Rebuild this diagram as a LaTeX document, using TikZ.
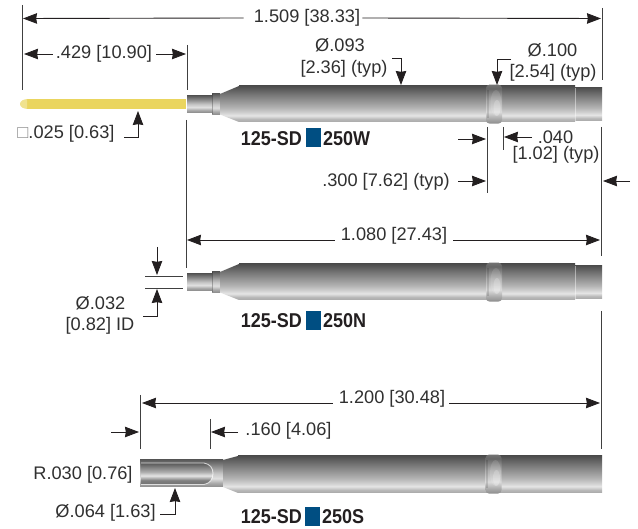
\documentclass[tikz,border=0pt]{standalone}
\usepackage{fontspec}
\setmainfont{Liberation Sans}
\usetikzlibrary{arrows.meta}
\definecolor{ink}{HTML}{231F20}
\definecolor{txt}{HTML}{303030}
\definecolor{brandblue}{HTML}{004E82}
\definecolor{brass}{HTML}{EAD55E}
\pgfdeclareverticalshading{pinbody}{100bp}{
 rgb(0bp)=(.66,.66,.66);rgb(25bp)=(.66,.66,.66);rgb(29bp)=(.72,.72,.72);rgb(34bp)=(.90,.90,.90);rgb(38bp)=(.82,.82,.82);rgb(45bp)=(.70,.70,.70);rgb(55bp)=(.57,.57,.57);rgb(65bp)=(.44,.44,.44);rgb(75bp)=(.30,.30,.30);rgb(100bp)=(.30,.30,.30)}
\pgfdeclareverticalshading{pinneck}{100bp}{
 rgb(0bp)=(.55,.55,.55);rgb(25bp)=(.55,.55,.55);rgb(32bp)=(.66,.66,.66);rgb(41bp)=(.88,.88,.88);rgb(50bp)=(.78,.78,.78);rgb(65bp)=(.52,.52,.52);rgb(75bp)=(.36,.36,.36);rgb(100bp)=(.36,.36,.36)}
\pgfdeclareverticalshading{pinslot}{100bp}{
 rgb(0bp)=(.45,.45,.45);rgb(25bp)=(.45,.45,.45);rgb(35bp)=(.50,.50,.50);rgb(46bp)=(.90,.90,.90);rgb(55bp)=(.68,.68,.68);rgb(75bp)=(.36,.36,.36);rgb(100bp)=(.36,.36,.36)}
\pgfdeclareverticalshading{pinring}{100bp}{
 rgb(0bp)=(.55,.55,.55);rgb(25bp)=(.55,.55,.55);rgb(31bp)=(.66,.66,.66);rgb(40bp)=(.86,.86,.86);rgb(55bp)=(.68,.68,.68);rgb(70bp)=(.40,.40,.40);rgb(75bp)=(.45,.45,.45);rgb(100bp)=(.45,.45,.45)}
\tikzset{
 dimline/.style={draw=ink,line width=.9pt},
 arr/.style={dimline,-{Stealth[length=14pt,width=10.5pt,inset=.8pt]}},
 ext/.style={draw=black!75,line width=.9pt},
 lab/.style={inner sep=0pt,text=txt,font=\fontsize{18.2}{20}\selectfont},
 code/.style={inner sep=0pt,text=ink,xscale=.9,font=\fontsize{20}{22}\selectfont\bfseries},
 bluebox/.style={fill=brandblue,draw=none,inner sep=0pt,minimum width=15pt,minimum height=19pt},
 body/.style={shading=pinbody},
 neck/.style={shading=pinneck},
}
\newcommand{\ringband}{%
 \shade[shading=pinring,rounded corners=3.5pt] (486,84.6) -- (502,84.6) -- (502,123.6) -- (486,123.6) -- cycle;
 \fill[white,opacity=.12] (496,103) ellipse (5.5 and 13);
 \fill[white,opacity=.2] (497,108) ellipse (3.5 and 8);
 \fill[black,opacity=.12] (486.5,90) rectangle (488.5,118);
}
\newcommand{\pintube}{%
 \shade[neck] (187,96) rectangle (212,112.5);
 \shade[neck] (212,94) rectangle (220,114.5);
 \draw[black,opacity=.25,line width=.8pt] (212,94.5) -- (212,114);
 \shade[body] (220,94) -- (239,86) -- (239,122) -- (220,114.5) -- cycle;
 \shade[body] (239,86) rectangle (575,122);
 \shade[body] (575,87.5) rectangle (602,121);
 \draw[white,opacity=.45,line width=.8pt] (575,88) -- (575,121);
 \ringband
}
\begin{document}
\begin{tikzpicture}[x=1pt,y=-1pt]
\useasboundingbox (0,0) rectangle (638,529);
% pins
\fill[brass] (186,99) -- (27,99) -- (27,109) -- (186,109) -- cycle;
\fill[brass!70!white] (27,99) .. controls (23,99.5) and (20,101) .. (20,104) .. controls (20,107) and (23,108.5) .. (27,109) -- cycle;
\begin{scope}\pintube\end{scope}
\begin{scope}[yshift=-178pt]\pintube\end{scope}
\shade[neck] (140,460) rectangle (223,487);
\shade[body] (223,460) -- (238,456) -- (238,493) -- (223,487) -- cycle;
\shade[body] (238,456) rectangle (602,493);
\shade[shading=pinslot] (141,463.5) -- (204,463.5) .. controls (210,464) and (213,468) .. (213,473.5) .. controls (213,479) and (210,483.5) .. (204,484.5) -- (141,484.5) -- cycle;
\draw[white,opacity=.7,line width=.9pt] (141,463) -- (204,463) .. controls (210,464) and (213,468) .. (213,473.5) .. controls (213,479) and (210,483.5) .. (204,484.5) -- (141,484.5);
\begin{scope}[yshift=-370pt,xshift=-.5pt]\ringband\end{scope}
% coordinates
\coordinate (a1) at (22,5); \coordinate (a2) at (22,90);
\coordinate (b1) at (602,8); \coordinate (b2) at (602,80);
\coordinate (c1) at (187,45); \coordinate (c2) at (187,90);
\coordinate (d1) at (186,120); \coordinate (d2) at (186,268);
\coordinate (e1) at (487,127); \coordinate (e2) at (487,193);
\coordinate (f1) at (503,127); \coordinate (f2) at (503,150);
\coordinate (g1) at (601,127); \coordinate (g2) at (601,256);
\coordinate (h1) at (601,311); \coordinate (h2) at (601,449);
\coordinate (i1) at (140,395); \coordinate (i2) at (140,449);
\coordinate (j1) at (210,419); \coordinate (j2) at (210,449);
\coordinate (k1) at (145,276); \coordinate (k2) at (183,276);
\coordinate (l1) at (145,288); \coordinate (l2) at (183,288);
\foreach \p/\q in {a1/a2,b1/b2,c1/c2,d1/d2,e1/e2,f1/f2,g1/g2,h1/h2,i1/i2,j1/j2,k1/k2,l1/l2}
 \draw[ext] (\p) -- (\q);
% labels
\node[lab] (t1509) at (307,18) {1.509 [38.33]};
\node[lab] (t429) at (104,54) {.429 [10.90]};
\node[lab] (t25) at (66,134) {\textcolor{black!45}{□}.025 [0.63]};
\node[lab] (t93a) at (340,45) {Ø.093};
\node[lab] (t93b) at (344,69) {[2.36] (typ)};
\node[lab] (t100a) at (552.5,50) {Ø.100};
\node[lab] (t100b) at (553,73) {[2.54] (typ)};
\node[lab] (t40a) at (555.5,137) {.040};
\node[lab] (t40b) at (556,155) {[1.02] (typ)};
\node[lab] (t300) at (386,182) {.300 [7.62] (typ)};
\node[lab] (t1080) at (394,236) {1.080 [27.43]};
\node[lab] (t32a) at (100.5,303) {Ø.032};
\node[lab] (t32b) at (100,326) {[0.82] ID};
\node[lab] (t1200) at (392,399) {1.200 [30.48]};
\node[lab] (t160) at (288.5,431) {.160 [4.06]};
\node[lab] (t30) at (83,475) {R.030 [0.76]};
\node[lab] (t64) at (105.5,513) {Ø.064 [1.63]};
% part codes
\node[code,anchor=east] (w1) at (302,139) {125-SD};
\node[bluebox] (wb) at (313.5,138) {};
\node[code,anchor=west] (w2) at (323,139) {250W};
\node[code,anchor=east] (n1) at (302,321) {125-SD};
\node[bluebox] (nb) at (313.5,321) {};
\node[code,anchor=west] (n2) at (323,321) {250N};
\node[code,anchor=east] (s1) at (302,517) {125-SD};
\node[bluebox] (sb) at (312.5,516.5) {};
\node[code,anchor=west] (s2) at (322,517) {250S};
% arrow end points
\coordinate (p1) at (23,18.5); \coordinate (p2) at (601,18.5);
\coordinate (p3) at (24,54); \coordinate (p4) at (186,54);
\coordinate (q1) at (124,137.5); \coordinate (q2) at (138,137.5); \coordinate (q3) at (138,111);
\coordinate (q4) at (392,58); \coordinate (q5) at (401,58); \coordinate (q6) at (401,85);
\coordinate (q7) at (511,59); \coordinate (q8) at (497,59); \coordinate (q9) at (497,85);
\coordinate (r1) at (532,137); \coordinate (r2) at (504,137);
\coordinate (r3) at (458,139); \coordinate (r4) at (486,139);
\coordinate (r5) at (458,181); \coordinate (r6) at (486,181);
\coordinate (r7) at (630,181); \coordinate (r8) at (603,181);
\coordinate (s3) at (187,240); \coordinate (s4) at (600,240);
\coordinate (u1) at (157,247); \coordinate (u2) at (157,275);
\coordinate (u3) at (143,316); \coordinate (u4) at (157,316); \coordinate (u5) at (157,289);
\coordinate (v1) at (142,403); \coordinate (v2) at (600,403);
\coordinate (v3) at (111,432); \coordinate (v4) at (139,432);
\coordinate (v5) at (238,432); \coordinate (v6) at (211,432);
\coordinate (x1) at (160,514); \coordinate (x2) at (175,514); \coordinate (x3) at (175,488);
% arrows
\draw[arr] ([xshift=-10pt]t1509.west) -- (p1);
\draw[arr] ([xshift=2pt]t1509.east) -- (p2);
\draw[arr] ([xshift=-3pt]t429.west) -- (p3);
\draw[arr] ([xshift=4pt]t429.east) -- (p4);
\draw[arr] (q1) -- (q2) -- (q3);
\draw[arr] (q4) -- (q5) -- (q6);
\draw[arr] (q7) -- (q8) -- (q9);
\draw[arr] (r1) -- (r2);
\draw[arr] (r3) -- (r4);
\draw[arr] (r5) -- (r6);
\draw[arr] (r7) -- (r8);
\draw[arr] ([xshift=-6pt]t1080.west |- s3) -- (s3);
\draw[arr] ([xshift=6pt]t1080.east |- s4) -- (s4);
\draw[arr] (u1) -- (u2);
\draw[arr] (u3) -- (u4) -- (u5);
\draw[arr] ([xshift=-6pt]t1200.west |- v1) -- (v1);
\draw[arr] ([xshift=4pt]t1200.east |- v2) -- (v2);
\draw[arr] (v3) -- (v4);
\draw[arr] (v5) -- (v6);
\draw[arr] (x1) -- (x2) -- (x3);
\end{tikzpicture}
\end{document}
